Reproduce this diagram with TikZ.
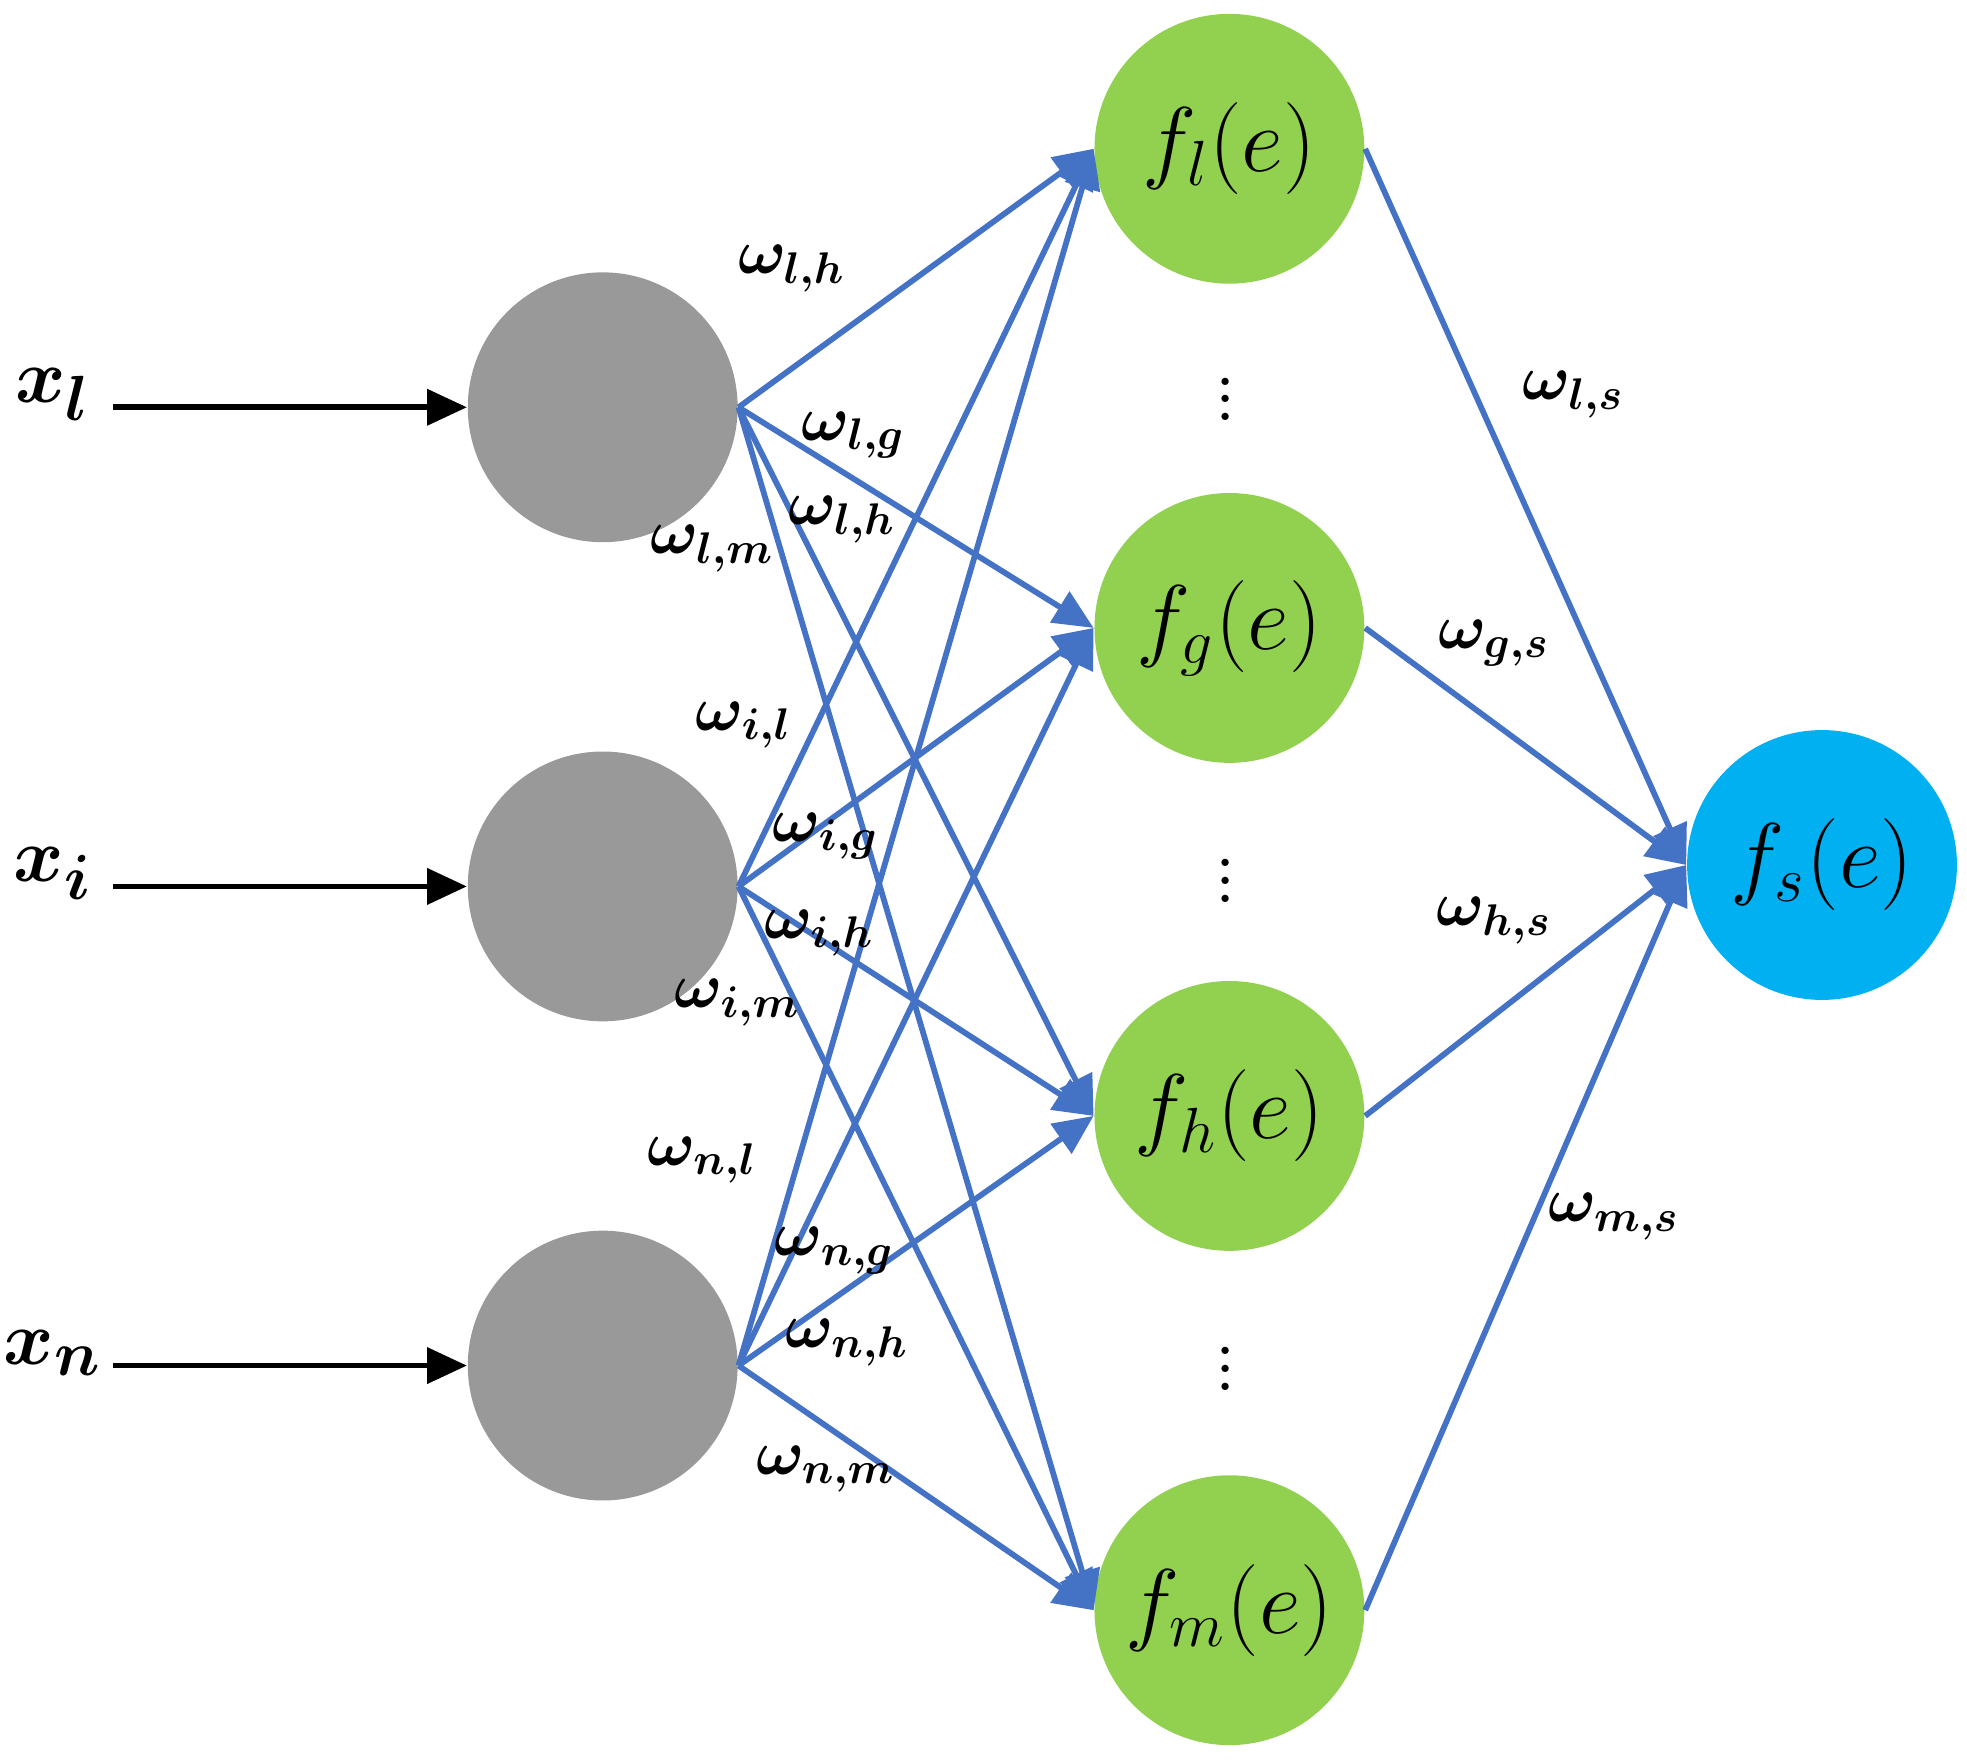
\documentclass[tikz,border=0pt]{standalone}
\usepackage{amsmath,bm}
\usetikzlibrary{arrows.meta}
\definecolor{edgeblue}{HTML}{4472C4}
\definecolor{hidgreen}{HTML}{92D050}
\definecolor{outblue}{HTML}{00B0F0}
\definecolor{ingray}{HTML}{999999}
\begin{document}
\begin{tikzpicture}[x=1cm,y=-1cm,
  neuron/.style={circle,inner sep=0pt,minimum size=2.14cm},
  wlab/.style={font=\fontsize{14}{17}\selectfont,inner sep=1pt},
  conn/.style={edgeblue,line width=1.3pt,-{Triangle[length=9pt,width=8pt]}}]
  \useasboundingbox (0,0) rectangle (15.6,13.97);
  % input layer
  \foreach \name/\y in {l/3.23,i/7.03,n/10.83}{
      \node[neuron,fill=ingray] (I-\name) at (4.78,\y) {};
      \node[font=\fontsize{19}{23}\selectfont] (X-\name) at (0.42,\y-0.1) {$\bm{x_{\name}}$};
      \coordinate (S-\name) at (0.9,\y);
      \draw[line width=1.3pt,-{Triangle[length=9pt,width=8pt]}] (S-\name) -- (I-\name.west);
    }
  % hidden layer
  \foreach \name/\y in {l/1.18,g/4.98,h/8.85,m/12.77}{
      \node[neuron,fill=hidgreen,font=\fontsize{21}{25}\selectfont] (H-\name) at (9.75,\y) {$f_{\name}(e)$};
    }
  \node[neuron,fill=outblue,font=\fontsize{21}{25}\selectfont] (O) at (14.45,6.86) {$f_{s}(e)$};
  % dots
  \foreach \y [count=\k] in {3.06,6.88,10.75}{
      \node[font=\fontsize{20}{24}\selectfont,inner sep=0pt] (D-\k) at (9.72,\y) {$\vdots$};
    }
  % connections
  \foreach \a in {l,i,n}{
    \foreach \b in {l,g,h,m}{
      \draw[conn] (I-\a.east) -- (H-\b.west);
    }
  }
  \foreach \b in {l,g,h,m}{
      \draw[conn] (H-\b.east) -- (O.west);
    }
  % weights
  \foreach \a/\b/\x/\y in {l/h/6.28/2.13, l/g/6.77/3.45, l/h/6.68/4.12, l/m/5.65/4.35,
      i/l/5.90/5.75, i/g/6.55/6.63, i/h/6.50/7.40, i/m/5.85/7.95,
      n/l/5.57/9.20, n/g/6.62/9.92, n/h/6.72/10.65, n/m/6.55/11.65,
      l/s/12.48/3.13, g/s/11.85/5.10, h/s/11.85/7.30, m/s/12.80/9.65}{
      \node[wlab] at (\x,\y) {$\bm{\omega_{\a,\b}}$};
    }
\end{tikzpicture}
\end{document}
